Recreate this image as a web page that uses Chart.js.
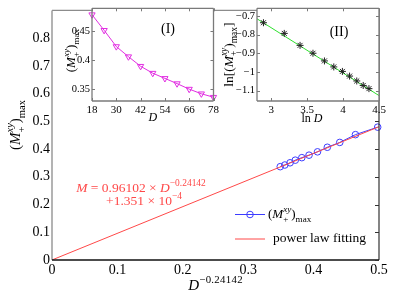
<!DOCTYPE html>
<html>
<head>
<meta charset="utf-8">
<script src="https://cdn.jsdelivr.net/npm/chart.js@4.4.1/dist/chart.umd.min.js"></script>
<style>
	html, body { margin: 0; padding: 0; background: #fff; }
	#wrap { position: relative; width: 415px; height: 296px; overflow: hidden; }
	canvas { position: absolute; top: 0; }
	#main { left: 0; }
	#inset1 { left: 56px; }
	#inset2 { left: 222px; }
</style>
</head>
<body>
<div id="wrap">
	<canvas id="main" width="415" height="296"></canvas>
	<canvas id="inset1" width="166" height="125"></canvas>
	<canvas id="inset2" width="193" height="125"></canvas>
</div>
<script>
// bond dimensions and the peak magnetisation (I)
const sizesD = [18, 24, 30, 36, 42, 48, 54, 60, 66, 72, 78];
const mMax = [0.479, 0.452, 0.424, 0.4065, 0.390, 0.378, 0.369, 0.360, 0.3505, 0.3425, 0.3365];
// same points on the main plot, x = D^-0.24142
const dPow = [0.498, 0.464, 0.440, 0.421, 0.406, 0.393, 0.382, 0.372, 0.364, 0.356, 0.349];
// inset (II), log-log
const lnD = [2.89, 3.18, 3.40, 3.58, 3.74, 3.87, 3.99, 4.09, 4.19, 4.28, 4.36];
const lnM = [-0.737, -0.794, -0.858, -0.900, -0.941, -0.973, -0.997, -1.022, -1.048, -1.072, -1.089];
// fitted lines
const fitX = [0, 0.5];
const fitY = [0.0001351, 0.4806];
const lnFitX = [2.8, 4.5];
const lnFitY = [-0.716, -1.126];

const mainXTicks = [0, 0.1, 0.2, 0.3, 0.4, 0.5];
const mainYTicks = [0, 0.1, 0.2, 0.3, 0.4, 0.5, 0.6, 0.7, 0.8];
const inset1XTicks = [18, 30, 42, 54, 66, 78];
const inset1YTicks = [0.35, 0.4, 0.45];
const inset2XTicks = [3, 3.5, 4, 4.5];
const inset2YTicks = [-1.1, -1, -0.9, -0.8, -0.7];

const SERIF = "'Liberation Serif', 'DejaVu Serif', serif";
const BLUE = "#3c3cff";
const RED = "#ff4848";
const MAGENTA = "#e22ee2";
const GREEN = "#2fe02f";

Chart.defaults.font.family = SERIF;
Chart.defaults.color = "#000";

const mLabel = [
	{ t: "(" }, { t: "M", it: true },
	{ t: "xy", it: true, sc: 0.7, sh: -0.45, keep: true }, { t: "+", sc: 0.7, sh: 0.3 },
	{ t: ")" }, { t: "max", sc: 0.7, sh: 0.3 }
];

function pts(xs, ys) {
	return xs.map((x, i) => ({ x, y: ys[i] }));
}

function minus(v) {
	return v < 0 ? "\u2212" + String(-v) : String(v);
}

function layoutMath(ctx, parts, size, spacing) {
	let x = 0;
	let held = 0;
	const runs = [];
	ctx.letterSpacing = (spacing || 0) + "px";
	for (const p of parts) {
		const s = size * (p.sc || 1);
		const font = `${p.it ? "italic " : ""}${s}px ${SERIF}`;
		ctx.font = font;
		const w = ctx.measureText(p.t).width;
		runs.push({ t: p.t, x, y: (p.sh || 0) * size, font });
		if (p.keep) {
			held = w;
			continue;
		}
		x += Math.max(w, held);
		held = 0;
	}
	return { runs, width: x };
}

// y is the baseline; rotated text reads bottom to top
function drawMath(ctx, parts, x, y, size, color, align, rotated, spacing) {
	ctx.save();
	const { runs, width } = layoutMath(ctx, parts, size, spacing);
	ctx.translate(x, y);
	if (rotated) ctx.rotate(-Math.PI / 2);
	const x0 = align === "center" ? -width / 2 : align === "right" ? -width : 0;
	ctx.fillStyle = color;
	ctx.textBaseline = "alphabetic";
	ctx.textAlign = "left";
	for (const r of runs) {
		ctx.font = r.font;
		ctx.fillText(r.t, x0 + r.x, r.y);
	}
	ctx.restore();
}

function line(ctx, x1, y1, x2, y2, color, width) {
	ctx.strokeStyle = color;
	ctx.lineWidth = width;
	ctx.beginPath();
	ctx.moveTo(x1, y1);
	ctx.lineTo(x2, y2);
	ctx.stroke();
}

// boxed axes with inward ticks, matlab style
function drawBox(chart, color, xt, yt) {
	const { ctx, chartArea: a, scales } = chart;
	ctx.save();
	line(ctx, a.left, a.top, a.right, a.top, color, 1.3);
	line(ctx, a.left, a.bottom, a.right, a.bottom, color, 1.3);
	line(ctx, a.left, a.top, a.left, a.bottom, color, 1.3);
	line(ctx, a.right, a.top, a.right, a.bottom, color, 1.3);
	for (const v of xt) {
		const px = Math.round(scales.x.getPixelForValue(v)) + 0.5;
		line(ctx, px, a.bottom, px, a.bottom - 3, color, 1);
		line(ctx, px, a.top, px, a.top + 3, color, 1);
	}
	for (const v of yt) {
		const py = Math.round(scales.y.getPixelForValue(v)) + 0.5;
		line(ctx, a.left, py, a.left + 3, py, color, 1);
		line(ctx, a.right, py, a.right - 3, py, color, 1);
	}
	ctx.restore();
}

const whiteArea = {
	id: "whiteArea",
	beforeDraw(chart) {
		const { ctx, chartArea: a } = chart;
		ctx.save();
		ctx.fillStyle = "#fff";
		ctx.fillRect(a.left, a.top, a.right - a.left, a.bottom - a.top);
		ctx.restore();
	}
};

function axisOpts(min, max, ticks, fmt, size, pad, fit) {
	return {
		type: "linear",
		min,
		max,
		grid: { display: false, drawTicks: false },
		border: { display: false },
		afterBuildTicks: (s) => { s.ticks = ticks.map((v) => ({ value: v })); },
		afterFit: fit,
		ticks: { autoSkip: false, maxRotation: 0, padding: pad, font: { size }, color: "#000", callback: fmt }
	};
}

const baseOpts = {
	responsive: false,
	animation: false,
	events: [],
	plugins: { legend: { display: false }, tooltip: { enabled: false } }
};

new Chart(document.getElementById("main"), {
	type: "scatter",
	data: {
		datasets: [
			{
				data: pts(fitX, fitY), showLine: true, borderColor: RED, borderWidth: 1,
				pointRadius: 0, order: 0
			},
			{
				data: pts(dPow, mMax), showLine: true, borderColor: BLUE, borderWidth: 1,
				pointStyle: "circle", pointRadius: 3.3, pointBorderWidth: 1,
				pointBackgroundColor: "rgba(0,0,0,0)", pointBorderColor: BLUE, order: 1, clip: 6
			}
		]
	},
	options: {
		...baseOpts,
		layout: { padding: { left: 0, right: 36, top: 3, bottom: 0 } },
		scales: {
			x: axisOpts(0, 0.5, mainXTicks, (v) => String(v), 14, 2, (s) => { s.height = 36; }),
			y: axisOpts(0, 0.9, mainYTicks, (v) => String(v), 14, 2, (s) => { s.width = 52; })
		}
	},
	plugins: [{
		id: "mainDecor",
		afterDraw(chart) {
			const { ctx, chartArea: a, scales } = chart;
			ctx.save();
			line(ctx, a.left, a.top, a.right, a.top, "#8c8c8c", 1.2);
			line(ctx, a.left, a.top, a.left, a.bottom, "#9a9a9a", 1.5);
			line(ctx, a.right, a.top, a.right, a.bottom, "#333", 1.2);
			line(ctx, a.left, a.bottom, a.right, a.bottom, "#111", 1.6);
			for (const v of mainYTicks) {
				const py = Math.round(scales.y.getPixelForValue(v)) + 0.5;
				line(ctx, a.right, py, a.right - 4, py, "#333", 1);
			}
			drawMath(ctx, mLabel, 20, 125, 15, "#000", "center", true);
			drawMath(ctx, [{ t: "D", it: true }, { t: "\u22120.24142", sc: 0.72, sh: -0.45 }],
				(a.left + a.right) / 2, 290, 15, "#000", "center", false, 0.3);
			// fit formula
			drawMath(ctx, [{ t: "M", it: true }, { t: " = 0.96102 \u00d7 " }, { t: "D", it: true },
				{ t: "\u22120.24142", sc: 0.7, sh: -0.45 }], 141, 192, 13.5, RED, "center");
			drawMath(ctx, [{ t: "+1.351 \u00d7 10" }, { t: "\u22124", sc: 0.7, sh: -0.45 }],
				144, 205, 13.5, RED, "center");
			// legend
			line(ctx, 235, 214.5, 265, 214.5, BLUE, 1);
			ctx.strokeStyle = BLUE;
			ctx.beginPath();
			ctx.arc(250, 214.5, 3.3, 0, Math.PI * 2);
			ctx.stroke();
			drawMath(ctx, mLabel, 268, 218, 13, "#000", "left");
			line(ctx, 235, 239, 265, 239, RED, 1);
			drawMath(ctx, [{ t: "power law fitting" }], 273, 242, 13.5, "#000", "left");
			ctx.restore();
		}
	}]
});

new Chart(document.getElementById("inset1"), {
	type: "scatter",
	data: {
		datasets: [{
			data: pts(sizesD, mMax), showLine: true, borderColor: MAGENTA, borderWidth: 1,
			pointStyle: "triangle", rotation: 180, pointRadius: 3.6, pointBorderWidth: 1,
			pointBackgroundColor: "rgba(0,0,0,0)", pointBorderColor: MAGENTA, clip: 6
		}]
	},
	options: {
		...baseOpts,
		layout: { padding: { left: 0, right: 7, top: 2, bottom: 0 } },
		scales: {
			x: axisOpts(18, 78, inset1XTicks, (v) => String(v), 11, 3, (s) => { s.height = 24; }),
			y: axisOpts(0.33, 0.49, inset1YTicks, (v) => String(v), 10.5, 2, (s) => { s.width = 36; })
		}
	},
	plugins: [whiteArea, {
		id: "inset1Decor",
		afterDraw(chart) {
			const { ctx, chartArea: a } = chart;
			drawBox(chart, "#7a7a7a", inset1XTicks, inset1YTicks);
			drawMath(ctx, mLabel, 19, (a.top + a.bottom) / 2 - 4, 13, "#000", "center", true);
			drawMath(ctx, [{ t: "D", it: true }], (a.left + a.right) / 2, 121, 12, "#000", "center");
			drawMath(ctx, [{ t: "(I)" }], 112, 33, 14, "#000", "center");
		}
	}]
});

new Chart(document.getElementById("inset2"), {
	type: "scatter",
	data: {
		datasets: [
			{
				data: pts(lnD, lnM), showLine: false, pointStyle: "star", pointRadius: 3.5,
				pointBorderWidth: 1, pointBorderColor: "#222", order: 0, clip: 6
			},
			{
				data: pts(lnFitX, lnFitY), showLine: true, borderColor: GREEN, borderWidth: 1,
				pointRadius: 0, order: 1
			}
		]
	},
	options: {
		...baseOpts,
		layout: { padding: { left: 0, right: 36, top: 2, bottom: 0 } },
		scales: {
			x: axisOpts(2.8, 4.5, inset2XTicks, (v) => String(v), 11, 3, (s) => { s.height = 24; }),
			y: axisOpts(-1.155, -0.66, inset2YTicks, minus, 10.5, 2, (s) => { s.width = 35; })
		}
	},
	plugins: [whiteArea, {
		id: "inset2Decor",
		afterDraw(chart) {
			const { ctx, chartArea: a } = chart;
			drawBox(chart, "#7a7a7a", inset2XTicks, inset2YTicks);
			const lbl = [{ t: "ln[" }].concat(mLabel, [{ t: "]" }]);
			drawMath(ctx, lbl, 11, (a.top + a.bottom) / 2, 13.5, "#000", "center", true);
			drawMath(ctx, [{ t: "ln " }, { t: "D", it: true }], 90, 122, 12, "#000", "center");
			drawMath(ctx, [{ t: "(II)" }], 117, 36, 14, "#000", "center");
		}
	}]
});
</script>
</body>
</html>
